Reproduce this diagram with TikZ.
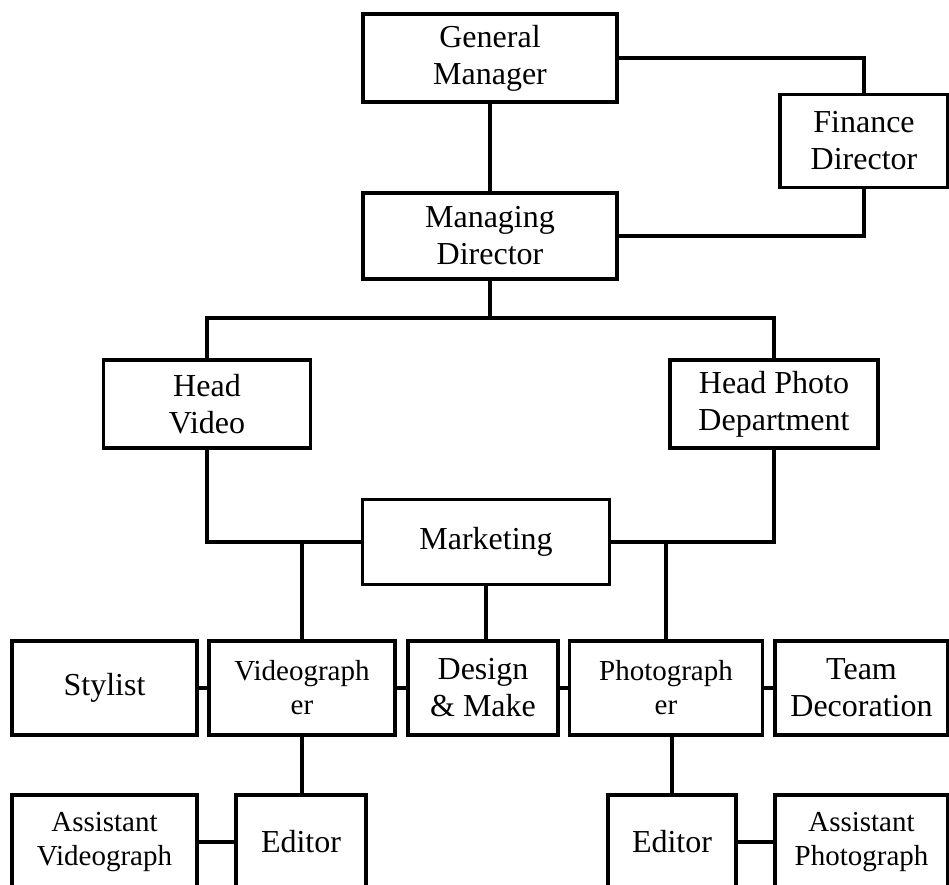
\documentclass[tikz,border=0pt]{standalone}
\usepackage{fontspec}
\setmainfont{Liberation Serif}
\usepackage{tikz}
\usetikzlibrary{positioning,calc}
\tikzset{
unit/.style={
draw,
line width=3.2pt,
align=center,
inner sep=0pt,
font=\fontsize{32}{37}\selectfont
},
smallunit/.style={
unit,
font=\fontsize{29}{34}\selectfont
},
link/.style={
line width=3.2pt
}
}

\begin{document}
\begin{tikzpicture}[x=1pt,y=-1pt]
\clip (0,0) rectangle (949,884);
\useasboundingbox (0,0) rectangle (949,884);

\node[unit,minimum width=254pt,minimum height=88pt](gm) at (490,58){General\\Manager};
\node[unit,minimum width=168pt,minimum height=93pt](fin) at (864,141){Finance\\Director};
\node[unit,minimum width=254pt,minimum height=86pt](md) at (490,236){Managing\\Director};
\node[unit,minimum width=207pt,minimum height=88pt](hv) at (207,404){Head\\Video};
\node[unit,minimum width=208pt,minimum height=88pt](hp) at (774,404){Head Photo\\Department};
\node[unit,minimum width=247pt,minimum height=85pt](mkt) at (486,542){Marketing};

\node[unit,minimum width=185pt,minimum height=94pt](sty) at (104.5,688){Stylist};
\node[smallunit,minimum width=186pt,minimum height=94pt](vid) at (302,688){Videograph\\er};
\node[unit,minimum width=150pt,minimum height=94pt](des) at (483,688){Design\\\& Make};
\node[smallunit,minimum width=193pt,minimum height=94pt](pho) at (666,688){Photograph\\er};
\node[unit,minimum width=173pt,minimum height=94pt](team) at (861.5,688){Team\\Decoration};

\node[smallunit,minimum width=185pt,minimum height=94pt](asv) at (104.5,842){Assistant\\Videograph};
\node[unit,minimum width=130pt,minimum height=94pt](edv) at (301,842){Editor};
\node[unit,minimum width=128pt,minimum height=94pt](edp) at (672,842){Editor};
\node[smallunit,minimum width=173pt,minimum height=94pt](asp) at (861.5,842){Assistant\\Photograph};

\coordinate(split) at (490,318);

\draw[link](gm.east) -| (fin.north);
\draw[link](fin.south) |- (md.east);
\draw[link](gm.south) -- (md.north);
\draw[link](md.south) -- (split);
\draw[link](hv.north) |- (split) -| (hp.north);
\draw[link](hv.south) |- (mkt.west);
\draw[link](hp.south) |- (mkt.east);
\draw[link](vid.north) -- (vid.north |- mkt.west);
\draw[link](pho.north) -- (pho.north |- mkt.east);
\draw[link](mkt.south) -- (mkt.south |- des.north);

\foreach \x/\y in {sty/vid,vid/des,des/pho,pho/team,asv/edv,edp/asp}
\draw[link](\x.east)--(\y.west);

\draw[link](vid.south) -- (vid.south |- edv.north);
\draw[link](pho.south -| edp.north) -- (edp.north);
\end{tikzpicture}
\end{document}
